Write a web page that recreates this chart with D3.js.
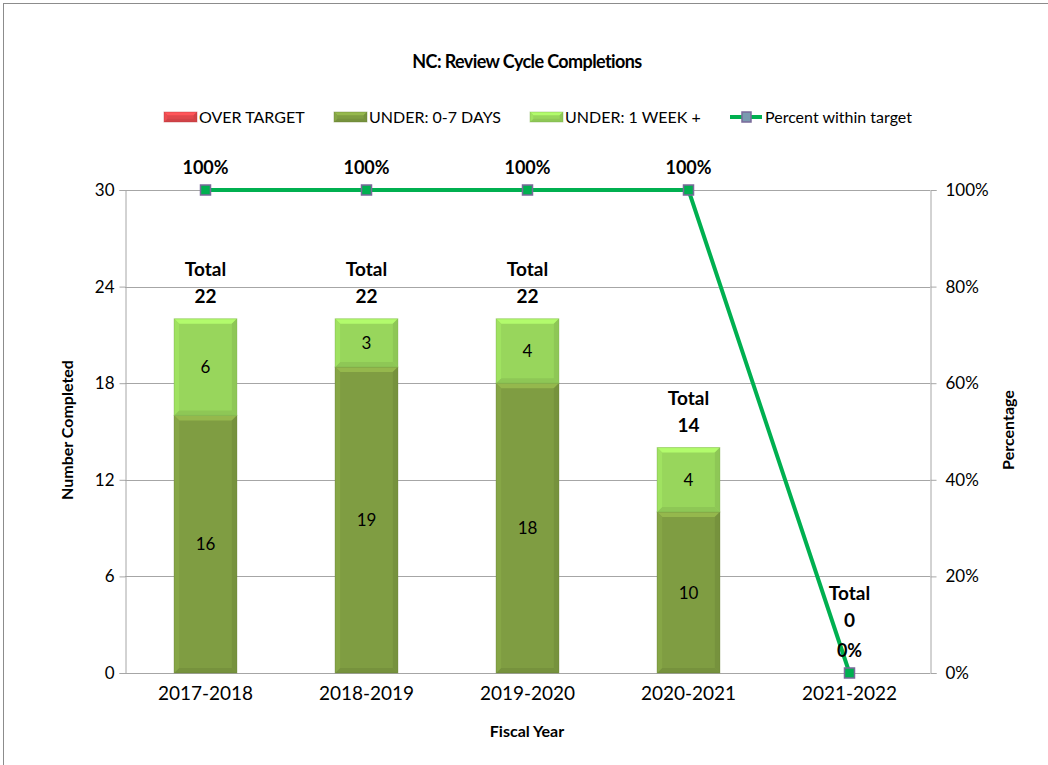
<!DOCTYPE html>
<html>
<head>
<meta charset="utf-8">
<script src="https://cdn.jsdelivr.net/npm/d3@7"></script>
<style>
  body { margin: 0; background: #fff; }
  text { font-family: Lato, "Open Sans", sans-serif; fill: #000; }
</style>
</head>
<body>
<script>
// chart data
const years = ["2017-2018", "2018-2019", "2019-2020", "2020-2021", "2021-2022"];
const overTarget = [0, 0, 0, 0, 0];
const under07 = [16, 19, 18, 10, 0];
const underWeek = [6, 3, 4, 4, 0];
const percentWithin = [100, 100, 100, 100, 0];
const countTicks = [0, 6, 12, 18, 24, 30];
const pctTicks = [0, 20, 40, 60, 80, 100];

const colors = {
    over: "#e0484c",
    under07: "#7f9d42",
    underWeek: "#98d65c",
    line: "#00b050",
    marker: "#7a6a9a"
};

function initSVG() {
    var svg = d3.select("body")
        .append("svg")
        .attr("width", 1048)
        .attr("height", 765);

    // outer chart frame (runs off the right and bottom)
    svg.append("rect")
        .attr("x", 3.5).attr("y", 3.5)
        .attr("width", 1100).attr("height", 800)
        .style("fill", "none")
        .style("stroke", "#8c8c8c");
    return svg;
}

// rectangle with a simple bevel look
function drawBevelRect(g, x, y, w, h, fill) {
    if (h <= 0) return;
    const b = Math.min(5, h / 3);
    const base = d3.color(fill);
    g.append("rect")
        .attr("x", x).attr("y", y).attr("width", w).attr("height", h)
        .style("fill", fill);
    const faces = [
        [[x, y], [x + w, y], [x + w - b, y + b], [x + b, y + b], base.brighter(0.45)],
        [[x, y + h], [x + w, y + h], [x + w - b, y + h - b], [x + b, y + h - b], base.darker(0.2)],
        [[x, y], [x + b, y + b], [x + b, y + h - b], [x, y + h], base.brighter(0.15)],
        [[x + w, y], [x + w - b, y + b], [x + w - b, y + h - b], [x + w, y + h], base.darker(0.2)]
    ];
    faces.forEach(f => {
        g.append("polygon")
            .attr("points", f.slice(0, 4).map(p => p.join(",")).join(" "))
            .style("fill", f[4]);
    });
    g.append("rect")
        .attr("x", x).attr("y", y).attr("width", w).attr("height", h)
        .style("fill", "none")
        .style("stroke", base.darker(0.6))
        .style("stroke-opacity", 0.4)
        .style("stroke-width", 1);
}

function drawChart() {
    const svg = initSVG();
    const left = 125, right = 930, top = 190, bottom = 673;

    const x = d3.scaleBand().domain(years).range([left, right]).paddingInner(0.61).paddingOuter(0.305);
    const xc = d => x(d) + x.bandwidth() / 2;
    const y = d3.scaleLinear().domain([0, 30]).range([bottom, top]);
    const yp = d3.scaleLinear().domain([0, 100]).range([bottom, top]);

    // title
    svg.append("text")
        .attr("x", 527).attr("y", 68)
        .attr("text-anchor", "middle")
        .style("font-size", "18px").style("font-weight", "bold")
        .style("letter-spacing", "-0.6px")
        .text("NC: Review Cycle Completions");

    // gridlines
    svg.append("g")
        .selectAll("line")
        .data(countTicks.slice(1))
        .join("line")
        .attr("x1", left).attr("x2", right)
        .attr("y1", d => Math.round(y(d)) + 0.5).attr("y2", d => Math.round(y(d)) + 0.5)
        .style("stroke", "#a6a6a6");

    // left axis
    const yAxis = svg.append("g")
        .attr("transform", `translate(${left + 0.5},0)`)
        .call(d3.axisLeft(y).tickValues(countTicks).tickSize(6).tickPadding(5));
    // right axis
    const ypAxis = svg.append("g")
        .attr("transform", `translate(${right + 0.5},0)`)
        .call(d3.axisRight(yp).tickValues(pctTicks).tickFormat(d => d + "%").tickSize(6).tickPadding(9));
    // bottom axis
    const xAxis = svg.append("g")
        .attr("transform", `translate(0,${bottom + 0.5})`)
        .call(d3.axisBottom(x).tickSize(0).tickPadding(13));

    [yAxis, ypAxis, xAxis].forEach(a => {
        a.select(".domain").style("stroke", "#a6a6a6");
        a.selectAll(".tick line").style("stroke", "#a6a6a6");
        a.selectAll("text").style("font-size", "17px").style("font-family", "Lato, sans-serif");
    });
    xAxis.selectAll("text").style("font-size", "19px");
    xAxis.select(".domain").attr("d", `M${left},0H${right}`);

    // axis titles
    svg.append("text")
        .attr("transform", "translate(73,430) rotate(-90)")
        .attr("text-anchor", "middle")
        .style("font-size", "16px").style("font-weight", "bold")
        .text("Number Completed");
    svg.append("text")
        .attr("transform", "translate(1014,430) rotate(-90)")
        .attr("text-anchor", "middle")
        .style("font-size", "16px").style("font-weight", "bold")
        .text("Percentage");
    svg.append("text")
        .attr("x", 527).attr("y", 737)
        .attr("text-anchor", "middle")
        .style("font-size", "16px").style("font-weight", "bold")
        .text("Fiscal Year");

    // stacked bars
    const bars = svg.append("g");
    years.forEach((yr, i) => {
        const segs = [
            { v: under07[i], c: colors.under07 },
            { v: underWeek[i], c: colors.underWeek },
            { v: overTarget[i], c: colors.over }
        ];
        let acc = 0;
        segs.forEach(s => {
            if (s.v > 0) {
                const y0 = y(acc), y1 = y(acc + s.v);
                drawBevelRect(bars, x(yr), y1, x.bandwidth(), y0 - y1, s.c);
                bars.append("text")
                    .attr("x", xc(yr)).attr("y", (y0 + y1) / 2 + 6)
                    .attr("text-anchor", "middle")
                    .style("font-size", "17px")
                    .text(s.v);
            }
            acc += s.v;
        });
    });

    // total labels
    years.forEach((yr, i) => {
        const total = under07[i] + underWeek[i] + overTarget[i];
        const shift = total === 0 ? 30 : 0;
        const ty = y(total) - shift;
        const g = svg.append("g");
        g.append("text")
            .attr("x", xc(yr)).attr("y", ty - 43)
            .attr("text-anchor", "middle")
            .style("font-size", "19px").style("font-weight", "bold")
            .text("Total");
        g.append("text")
            .attr("x", xc(yr)).attr("y", ty - 16)
            .attr("text-anchor", "middle")
            .style("font-size", "19px").style("font-weight", "bold")
            .text(total);
    });

    // percent line
    const line = d3.line().x((d, i) => xc(years[i])).y(d => yp(d));
    svg.append("path")
        .datum(percentWithin)
        .attr("d", line)
        .style("fill", "none")
        .style("stroke", colors.line)
        .style("stroke-width", 4);

    svg.append("g")
        .selectAll("rect")
        .data(percentWithin)
        .join("rect")
        .attr("x", (d, i) => xc(years[i]) - 5)
        .attr("y", d => yp(d) - 5)
        .attr("width", 10).attr("height", 10)
        .style("fill", colors.line)
        .style("stroke", colors.marker)
        .style("stroke-width", 1.5);

    svg.append("g")
        .selectAll("text")
        .data(percentWithin)
        .join("text")
        .attr("x", (d, i) => xc(years[i]))
        .attr("y", d => yp(d) - 16)
        .attr("text-anchor", "middle")
        .style("font-size", "18px").style("font-weight", "bold")
        .text(d => d + "%");

    // legend
    const legend = svg.append("g");
    const items = [
        { label: "OVER TARGET", c: colors.over, x: 164 },
        { label: "UNDER: 0-7 DAYS", c: colors.under07, x: 334 },
        { label: "UNDER: 1 WEEK +", c: colors.underWeek, x: 530 }
    ];
    items.forEach(it => {
        drawBevelRect(legend, it.x, 112, 33, 10, it.c);
        legend.append("text")
            .attr("x", it.x + 35).attr("y", 123)
            .style("font-size", "16px")
            .text(it.label);
    });
    legend.append("line")
        .attr("x1", 730).attr("x2", 762).attr("y1", 117).attr("y2", 117)
        .style("stroke", colors.line).style("stroke-width", 4);
    legend.append("rect")
        .attr("x", 742).attr("y", 112).attr("width", 9).attr("height", 10)
        .style("fill", "#7a9ab0").style("stroke", colors.marker).style("stroke-width", 1.5);
    legend.append("text")
        .attr("x", 765).attr("y", 123)
        .style("font-size", "16px")
        .text("Percent within target");
}

drawChart();
</script>
</body>
</html>
